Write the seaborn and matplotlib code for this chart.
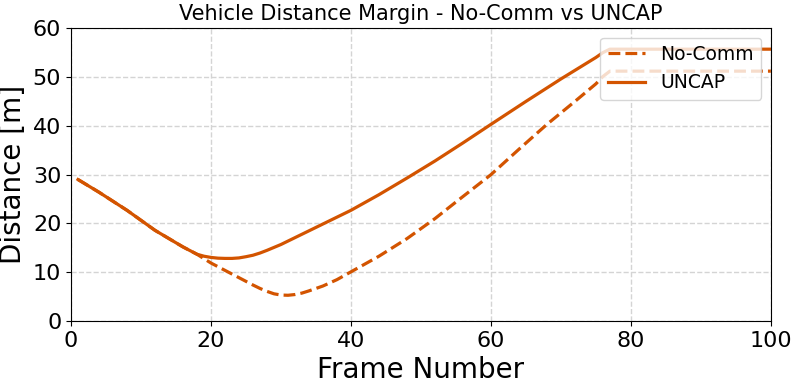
import matplotlib
matplotlib.use("Agg")
import matplotlib.pyplot as plt
import pandas as pd
import seaborn as sns

# ---------------------------------------------------------------------------
# Dados
# ---------------------------------------------------------------------------
frames_uncap = [1, 4, 8, 12, 16, 18, 19, 20, 21, 22, 23, 24, 25, 26, 27, 28, 29,
                30, 32, 34, 37, 40, 44, 48, 52, 56, 60, 65, 70, 75, 76, 77, 80,
                90, 100]
dist_uncap = [29.0, 26.4, 22.7, 18.6, 15.2, 13.7, 13.3, 13.05, 12.9, 12.85, 12.85,
              12.95, 13.2, 13.5, 13.95, 14.5, 15.1, 15.7, 17.1, 18.5, 20.6, 22.7,
              25.9, 29.3, 32.8, 36.5, 40.3, 45.0, 49.6, 54.0, 55.0, 55.7, 55.7,
              55.7, 55.7]

frames_nocomm = [1, 4, 8, 12, 16, 18, 20, 22, 24, 26, 27, 28, 29, 30, 31, 32, 33,
                 34, 36, 38, 40, 44, 48, 52, 55, 60, 64, 68, 72, 75, 76, 77, 80,
                 90, 100]
dist_nocomm = [29.0, 26.4, 22.7, 18.6, 15.2, 13.7, 11.9, 10.4, 8.9, 7.4, 6.7, 6.1,
               5.6, 5.35, 5.3, 5.45, 5.75, 6.2, 7.2, 8.5, 10.1, 13.3, 16.9, 21.0,
               24.4, 30.0, 35.2, 40.3, 45.0, 48.6, 50.1, 51.2, 51.2, 51.2, 51.2]

COR = "#d35400"

df_nc = pd.DataFrame({"frame": frames_nocomm, "dist": dist_nocomm})
df_un = pd.DataFrame({"frame": frames_uncap, "dist": dist_uncap})

fig, ax = plt.subplots(figsize=(7.98, 3.86), dpi=100)
fig.subplots_adjust(left=0.089, right=0.966, bottom=0.168, top=0.927)

sns.lineplot(data=df_nc, x="frame", y="dist", color=COR, linestyle="--",
             linewidth=2.3, label="No-Comm", ax=ax)
sns.lineplot(data=df_un, x="frame", y="dist", color=COR, linestyle="-",
             linewidth=2.3, label="UNCAP", ax=ax)

ax.set_xlim(0, 100)
ax.set_ylim(0, 60)
ax.set_title("Vehicle Distance Margin - No-Comm vs UNCAP", fontsize=15)
ax.set_xlabel("Frame Number", fontsize=20)
ax.set_ylabel("Distance [m]", fontsize=20)
ax.tick_params(labelsize=16)
ax.grid(True, linestyle="--", color="#d4d4d4", linewidth=1)
ax.legend(loc="upper right", fontsize=13.5)

fig.savefig("out.png", dpi=100)
